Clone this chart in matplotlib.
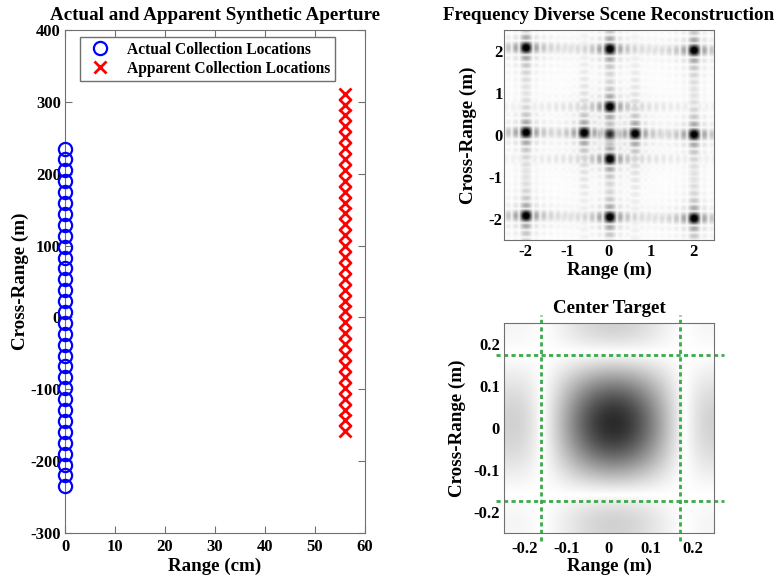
import numpy as np
import matplotlib
matplotlib.use("Agg")
import matplotlib.pyplot as plt

plt.rcParams["font.family"] = ["Liberation Serif", "DejaVu Serif"]
plt.rcParams["font.weight"] = "bold"
plt.rcParams["axes.unicode_minus"] = False

# ---- synthetic aperture sample locations ----
actual_range = [0.0] * 32
actual_cross = [-235.0, -219.8, -204.7, -189.5, -174.4, -159.2, -144.0, -128.9,
                -113.7, -98.5, -83.4, -68.2, -53.1, -37.9, -22.7, -7.6,
                7.6, 22.7, 37.9, 53.1, 68.2, 83.4, 98.5, 113.7,
                128.9, 144.0, 159.2, 174.4, 189.5, 204.7, 219.8, 235.0]
apparent_range = [56.0] * 32
apparent_cross = [-158.5, -143.3, -128.2, -113.0, -97.9, -82.7, -67.5, -52.4,
                  -37.2, -22.0, -6.9, 8.3, 23.4, 38.6, 53.8, 68.9,
                  84.1, 99.2, 114.4, 129.6, 144.7, 159.9, 175.1, 190.2,
                  205.4, 220.5, 235.7, 250.9, 266.0, 281.2, 296.3, 311.5]

# ---- point targets in the reconstructed scene (m) ----
target_range = [-1.98, 0.01, 2.01,
                -1.98, -0.60, 0.01, 0.61, 2.01,
                0.01, 0.01,
                -1.98, 0.01, 2.01]
target_cross = [2.06, 2.03, 2.00,
                0.05, 0.04, 0.01, 0.02, 0.00,
                0.66, -0.58,
                -1.93, -1.96, -1.99]
target_amp = [1.0, 1.0, 1.0,
              1.0, 1.0, 0.68, 1.0, 1.0,
              1.0, 1.0,
              1.0, 1.0, 1.0]
center_index = 5
resolution = 0.17  # first null of the point response (m)

# resolution-cell markers on the center target
cell_range = [-0.162, 0.169]
cell_cross = [0.174, -0.173]

def psf(X, Y, tx, ty):
    return np.abs(np.sinc((X - tx) / resolution) * np.sinc((Y - ty) / resolution))

def scene(xs, ys):
    X, Y = np.meshgrid(xs, ys)
    img = np.zeros_like(X)
    for tx, ty, a in zip(target_range, target_cross, target_amp):
        img = np.maximum(img, a * psf(X, Y, tx, ty))
    return img

edge = "#707070"
fs_tick = 12
fs_lab = 13.7

fig = plt.figure(figsize=(7.77, 5.79), dpi=100)

# ---- left: aperture positions ----
ax1 = fig.add_axes([0.0837, 0.0794, 0.386, 0.8688])
ax1.plot(actual_range, actual_cross, linestyle="none", marker="o", ms=9.5,
         mfc="none", mec="blue", mew=1.6, label="Actual Collection Locations",
         clip_on=False, zorder=3)
ax1.plot(apparent_range, apparent_cross, linestyle="none", marker="x", ms=8,
         mec="red", mew=2.0, label="Apparent Collection Locations", zorder=3)
ax1.set_xlim(0, 60)
ax1.set_ylim(-300, 400)
ax1.set_xticks(range(0, 61, 10))
ax1.set_yticks(range(-300, 401, 100))
ax1.tick_params(direction="in", top=True, right=True, length=5, color=edge,
                labelsize=fs_tick, pad=3)
ax1.tick_params(axis="x", pad=4.5)
for s in ax1.spines.values():
    s.set_color(edge)
ax1.set_xlabel("Range (cm)", fontsize=fs_lab, fontweight="bold", labelpad=2)
ax1.set_ylabel("Cross-Range (m)", fontsize=fs_lab, fontweight="bold", labelpad=1)
ax1.set_title("Actual and Apparent Synthetic Aperture", fontsize=13.7,
              fontweight="bold", pad=7)
leg = ax1.legend(loc="upper left", bbox_to_anchor=(0.05, 0.986), fontsize=11.2,
                 fancybox=False, edgecolor=edge, framealpha=1, borderpad=0.3,
                 handletextpad=0.7, labelspacing=0.2, borderaxespad=0)
leg.get_frame().set_linewidth(1.0)

# ---- top right: full scene reconstruction ----
ax2 = fig.add_axes([0.6486, 0.5855, 0.2703, 0.3627])
g = np.linspace(-2.5, 2.5, 501)
img = scene(g, g) ** 0.8
ax2.imshow(img, cmap="gray_r", vmin=0, vmax=0.85, origin="lower",
           extent=[-2.5, 2.5, -2.5, 2.5], interpolation="bilinear", aspect="auto")
ax2.set_xticks([-2, -1, 0, 1, 2])
ax2.set_yticks([-2, -1, 0, 1, 2])
ax2.tick_params(length=0, labelsize=fs_tick)
ax2.tick_params(axis="y", pad=1)
ax2.tick_params(axis="x", pad=3)
for s in ax2.spines.values():
    s.set_color(edge)
ax2.set_xlabel("Range (m)", fontsize=fs_lab, fontweight="bold", labelpad=1)
ax2.set_ylabel("Cross-Range (m)", fontsize=fs_lab, fontweight="bold", labelpad=8)
ax2.set_title("Frequency Diverse Scene Reconstruction", fontsize=13.7,
              fontweight="bold", pad=7)

# ---- bottom right: center target close-up ----
ax3 = fig.add_axes([0.6486, 0.0794, 0.2703, 0.3627])
gz = np.linspace(-0.25, 0.25, 301)
GX, GY = np.meshgrid(gz, gz)
zimg = psf(GX, GY, target_range[center_index], target_cross[center_index])
ax3.imshow(zimg, cmap="gray_r", vmin=0, vmax=zimg.max() / 0.83, origin="lower",
           extent=[-0.25, 0.25, -0.25, 0.25], interpolation="bilinear",
           aspect="auto")
for cx in cell_range:
    ax3.plot([cx, cx], [-0.27, 0.27], color="#3aaa4a", lw=2, dashes=(1.5, 1.2),
             clip_on=False)
for cy in cell_cross:
    ax3.plot([-0.27, 0.275], [cy, cy], color="#3aaa4a", lw=2, dashes=(1.5, 1.2),
             clip_on=False)
ax3.set_xlim(-0.25, 0.25)
ax3.set_ylim(-0.25, 0.25)
ax3.set_xticks([-0.2, -0.1, 0, 0.1, 0.2])
ax3.set_yticks([-0.2, -0.1, 0, 0.1, 0.2])
ax3.set_xticklabels(["-0.2", "-0.1", "0", "0.1", "0.2"])
ax3.set_yticklabels(["-0.2", "-0.1", "0", "0.1", "0.2"])
ax3.tick_params(length=0, labelsize=fs_tick)
ax3.tick_params(axis="y", pad=3)
ax3.tick_params(axis="x", pad=6)
for s in ax3.spines.values():
    s.set_color(edge)
ax3.set_xlabel("Range (m)", fontsize=fs_lab, fontweight="bold", labelpad=0)
ax3.set_ylabel("Cross-Range (m)", fontsize=fs_lab, fontweight="bold", labelpad=5)
ax3.set_title("Center Target", fontsize=13.7, fontweight="bold", pad=7)

fig.savefig("out.png", dpi=100)
